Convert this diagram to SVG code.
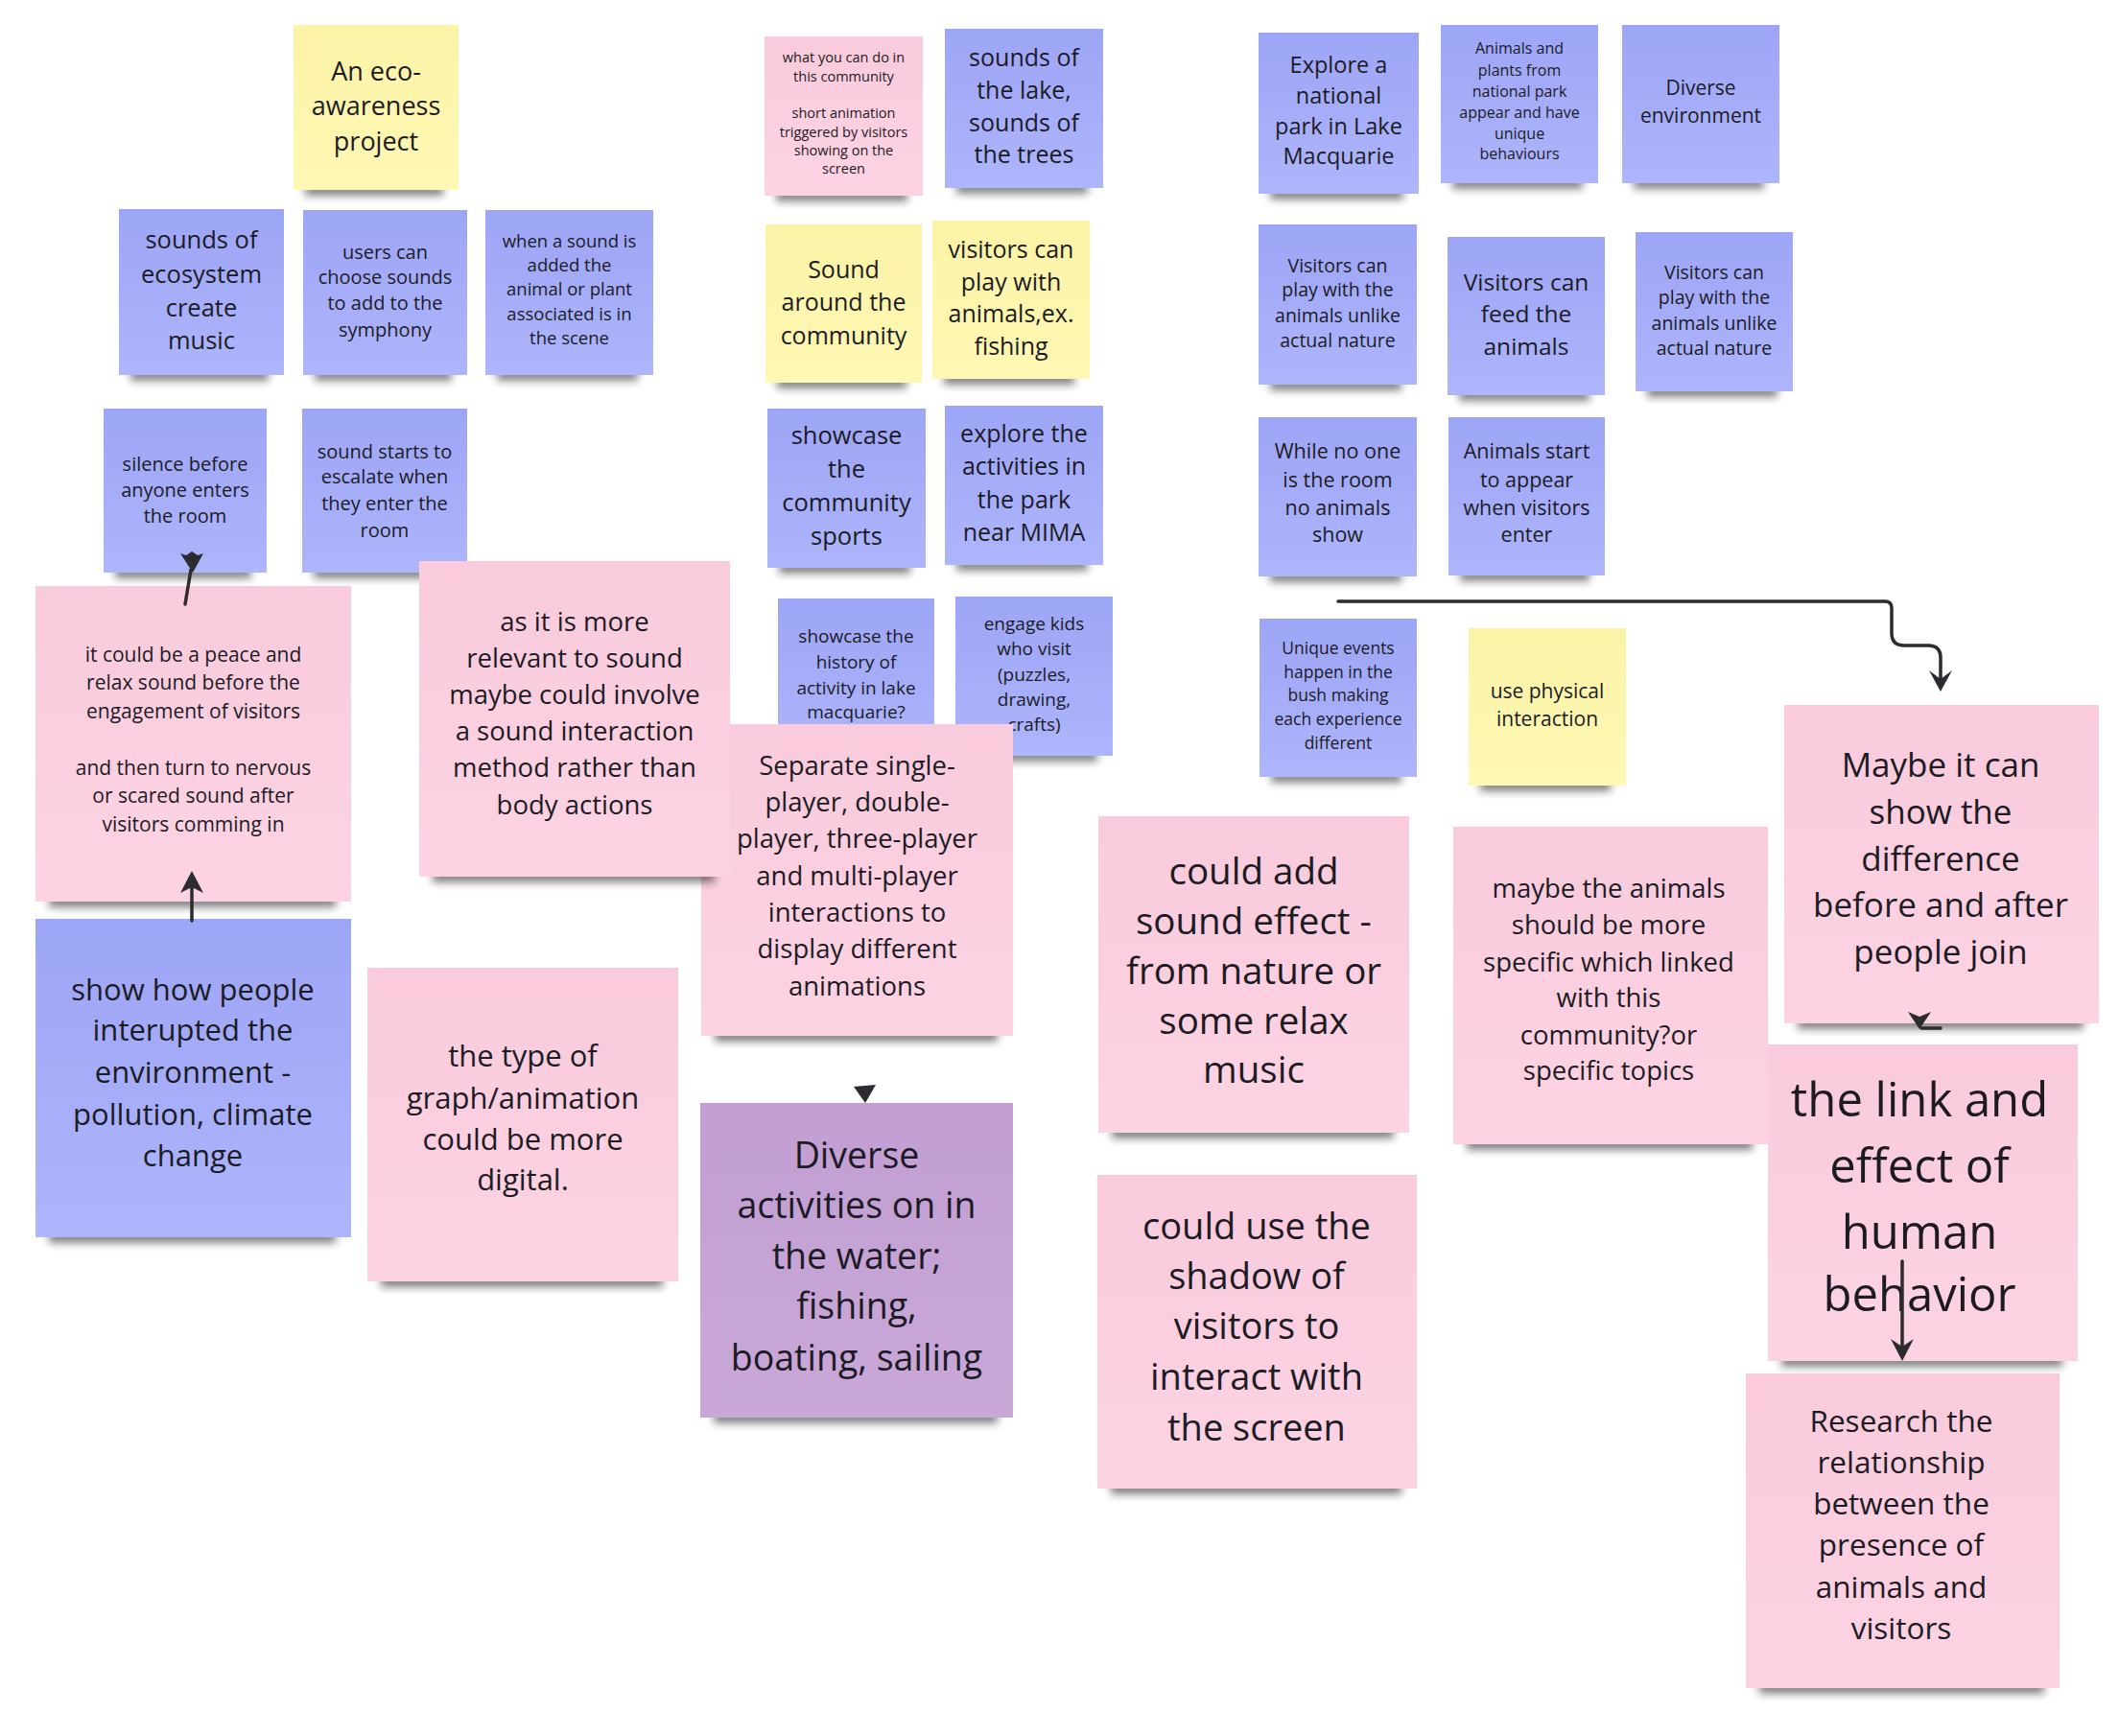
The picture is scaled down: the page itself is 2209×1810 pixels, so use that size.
<svg xmlns="http://www.w3.org/2000/svg" width="2209" height="1810" viewBox="0 0 2209 1810">
<defs>
<linearGradient id="gb" x1="0" y1="0" x2="0" y2="1"><stop offset="0" stop-color="#9da5f6"/><stop offset="1" stop-color="#adb5fc"/></linearGradient>
<linearGradient id="gp" x1="0" y1="0" x2="0" y2="1"><stop offset="0" stop-color="#f9cbdc"/><stop offset="1" stop-color="#fdd3e3"/></linearGradient>
<linearGradient id="gy" x1="0" y1="0" x2="0" y2="1"><stop offset="0" stop-color="#fbf3a6"/><stop offset="1" stop-color="#fef8b4"/></linearGradient>
<linearGradient id="gv" x1="0" y1="0" x2="0" y2="1"><stop offset="0" stop-color="#c29ed2"/><stop offset="1" stop-color="#c9a8d8"/></linearGradient>
<filter id="blur" x="-20%" y="-100%" width="140%" height="300%"><feGaussianBlur stdDeviation="4"/></filter>
</defs>
<style>
.n text{font-family:"Open Sans","Liberation Sans",sans-serif;fill:#1c1b24;text-anchor:middle}
.sh{fill:#1a1a1a;opacity:.55;filter:url(#blur)}
.b{fill:url(#gb)}.p{fill:url(#gp)}.y{fill:url(#gy)}.v{fill:url(#gv)}
.c{fill:none;stroke:#2b2b30;stroke-width:3.5;stroke-linecap:round}
.h{fill:#2b2b30}
</style>
<rect width="2209" height="1810" fill="#ffffff"/>

<g id="n-eco" class="n"><rect class="sh" x="318" y="192" width="144" height="12"/><rect class="y" x="306" y="26" width="172" height="172"/>
<text font-size="27"><tspan x="392" y="84">An eco-</tspan><tspan x="392" y="120">awareness</tspan><tspan x="392" y="157">project</tspan></text></g>

<g id="n-ecosystem" class="n"><rect class="sh" x="136" y="385" width="144" height="12"/><rect class="b" x="124" y="218" width="172" height="173"/>
<text font-size="25.5"><tspan x="210" y="259">sounds of</tspan><tspan x="210" y="295">ecosystem</tspan><tspan x="210" y="330">create</tspan><tspan x="210" y="364">music</tspan></text></g>

<g id="n-users" class="n"><rect class="sh" x="328" y="385" width="143" height="12"/><rect class="b" x="316" y="219" width="171" height="172"/>
<text font-size="20"><tspan x="401.5" y="270">users can</tspan><tspan x="401.5" y="296">choose sounds</tspan><tspan x="401.5" y="323">to add to the</tspan><tspan x="401.5" y="351">symphony</tspan></text></g>

<g id="n-when" class="n"><rect class="sh" x="518" y="385" width="147" height="12"/><rect class="b" x="506" y="219" width="175" height="172"/>
<text font-size="18.5"><tspan x="593.5" y="258">when a sound is</tspan><tspan x="593.5" y="283">added the</tspan><tspan x="593.5" y="308">animal or plant</tspan><tspan x="593.5" y="334">associated is in</tspan><tspan x="593.5" y="359">the scene</tspan></text></g>

<g id="n-silence" class="n"><rect class="sh" x="120" y="591" width="142" height="12"/><rect class="b" x="108" y="426" width="170" height="171"/>
<text font-size="20"><tspan x="193" y="491">silence before</tspan><tspan x="193" y="518">anyone enters</tspan><tspan x="193" y="545">the room</tspan></text></g>

<g id="n-escalate" class="n"><rect class="sh" x="327" y="591" width="144" height="12"/><rect class="b" x="315" y="426" width="172" height="171"/>
<text font-size="20"><tspan x="401" y="478">sound starts to</tspan><tspan x="401" y="504">escalate when</tspan><tspan x="401" y="532">they enter the</tspan><tspan x="401" y="560">room</tspan></text></g>

<g id="n-whatyoucando" class="n"><rect class="sh" x="809" y="198" width="137" height="12"/><rect class="p" x="797" y="38" width="165" height="166"/>
<text font-size="14.5"><tspan x="879.5" y="65">what you can do in</tspan><tspan x="879.5" y="85">this community</tspan><tspan x="879.5" y="123">short animation</tspan><tspan x="879.5" y="143">triggered by visitors</tspan><tspan x="879.5" y="162">showing on the</tspan><tspan x="879.5" y="181">screen</tspan></text></g>

<g id="n-lake" class="n"><rect class="sh" x="997" y="190" width="137" height="12"/><rect class="b" x="985" y="30" width="165" height="166"/>
<text font-size="25"><tspan x="1067.5" y="69">sounds of</tspan><tspan x="1067.5" y="103">the lake,</tspan><tspan x="1067.5" y="137">sounds of</tspan><tspan x="1067.5" y="170">the trees</tspan></text></g>

<g id="n-soundaround" class="n"><rect class="sh" x="810" y="393" width="135" height="12"/><rect class="y" x="798" y="234" width="163" height="165"/>
<text font-size="25"><tspan x="879.5" y="290">Sound</tspan><tspan x="879.5" y="324">around the</tspan><tspan x="879.5" y="359">community</tspan></text></g>

<g id="n-fishing" class="n"><rect class="sh" x="984" y="389" width="136" height="12"/><rect class="y" x="972" y="230" width="164" height="165"/>
<text font-size="25"><tspan x="1054" y="269">visitors can</tspan><tspan x="1054" y="303">play with</tspan><tspan x="1054" y="336">animals,ex.</tspan><tspan x="1054" y="370">fishing</tspan></text></g>

<g id="n-sports" class="n"><rect class="sh" x="812" y="586" width="137" height="12"/><rect class="b" x="800" y="426" width="165" height="166"/>
<text font-size="25.5"><tspan x="882.5" y="463">showcase</tspan><tspan x="882.5" y="498">the</tspan><tspan x="882.5" y="533">community</tspan><tspan x="882.5" y="568">sports</tspan></text></g>

<g id="n-mima" class="n"><rect class="sh" x="997" y="583" width="137" height="12"/><rect class="b" x="985" y="423" width="165" height="166"/>
<text font-size="25"><tspan x="1067.5" y="461">explore the</tspan><tspan x="1067.5" y="495">activities in</tspan><tspan x="1067.5" y="530">the park</tspan><tspan x="1067.5" y="564">near MIMA</tspan></text></g>

<g id="n-national" class="n"><rect class="sh" x="1324" y="196" width="139" height="12"/><rect class="b" x="1312" y="34" width="167" height="168"/>
<text font-size="23.5"><tspan x="1395.5" y="76">Explore a</tspan><tspan x="1395.5" y="108">national</tspan><tspan x="1395.5" y="140">park in Lake</tspan><tspan x="1395.5" y="171">Macquarie</tspan></text></g>

<g id="n-plants" class="n"><rect class="sh" x="1514" y="185" width="136" height="12"/><rect class="b" x="1502" y="26" width="164" height="165"/>
<text font-size="16"><tspan x="1584" y="56">Animals and</tspan><tspan x="1584" y="79">plants from</tspan><tspan x="1584" y="101">national park</tspan><tspan x="1584" y="123">appear and have</tspan><tspan x="1584" y="145">unique</tspan><tspan x="1584" y="166">behaviours</tspan></text></g>

<g id="n-diverseenv" class="n"><rect class="sh" x="1703" y="185" width="136" height="12"/><rect class="b" x="1691" y="26" width="164" height="165"/>
<text font-size="21"><tspan x="1773" y="99">Diverse</tspan><tspan x="1773" y="128">environment</tspan></text></g>

<g id="n-play1" class="n"><rect class="sh" x="1324" y="395" width="137" height="12"/><rect class="b" x="1312" y="234" width="165" height="167"/>
<text font-size="19.5"><tspan x="1394.5" y="283.5">Visitors can</tspan><tspan x="1394.5" y="308.5">play with the</tspan><tspan x="1394.5" y="335.5">animals unlike</tspan><tspan x="1394.5" y="361.5">actual nature</tspan></text></g>

<g id="n-feed" class="n"><rect class="sh" x="1521" y="406" width="136" height="12"/><rect class="b" x="1509" y="247" width="164" height="165"/>
<text font-size="24.5"><tspan x="1591" y="303">Visitors can</tspan><tspan x="1591" y="336">feed the</tspan><tspan x="1591" y="370">animals</tspan></text></g>

<g id="n-play2" class="n"><rect class="sh" x="1717" y="402" width="136" height="12"/><rect class="b" x="1705" y="242" width="164" height="166"/>
<text font-size="19.5"><tspan x="1787" y="290.5">Visitors can</tspan><tspan x="1787" y="316.5">play with the</tspan><tspan x="1787" y="343.5">animals unlike</tspan><tspan x="1787" y="369.5">actual nature</tspan></text></g>

<g id="n-noone" class="n"><rect class="sh" x="1324" y="595" width="137" height="12"/><rect class="b" x="1312" y="435" width="165" height="166"/>
<text font-size="21.5"><tspan x="1394.5" y="478">While no one</tspan><tspan x="1394.5" y="508">is the room</tspan><tspan x="1394.5" y="537">no animals</tspan><tspan x="1394.5" y="565">show</tspan></text></g>

<g id="n-appear" class="n"><rect class="sh" x="1522" y="594" width="135" height="12"/><rect class="b" x="1510" y="435" width="163" height="165"/>
<text font-size="21.5"><tspan x="1591.5" y="478">Animals start</tspan><tspan x="1591.5" y="508">to appear</tspan><tspan x="1591.5" y="537">when visitors</tspan><tspan x="1591.5" y="565">enter</tspan></text></g>

<g id="n-unique" class="n"><rect class="sh" x="1325" y="804" width="136" height="12"/><rect class="b" x="1313" y="645" width="164" height="165"/>
<text font-size="17.5"><tspan x="1395" y="682">Unique events</tspan><tspan x="1395" y="707">happen in the</tspan><tspan x="1395" y="731">bush making</tspan><tspan x="1395" y="756">each experience</tspan><tspan x="1395" y="781">different</tspan></text></g>

<g id="n-physical" class="n"><rect class="sh" x="1543" y="813" width="136" height="12"/><rect class="y" x="1531" y="655" width="164" height="164"/>
<text font-size="21"><tspan x="1613" y="728">use physical</tspan><tspan x="1613" y="757">interaction</tspan></text></g>

<g id="n-history" class="n"><rect class="b" x="811" y="624" width="163" height="166"/>
<text font-size="19"><tspan x="892.5" y="670">showcase the</tspan><tspan x="892.5" y="697">history of</tspan><tspan x="892.5" y="724">activity in lake</tspan><tspan x="892.5" y="749">macquarie?</tspan></text></g>

<g id="n-kids" class="n"><rect class="sh" x="1008" y="782" width="136" height="12"/><rect class="b" x="996" y="622" width="164" height="166"/>
<text font-size="19"><tspan x="1078" y="657">engage kids</tspan><tspan x="1078" y="683">who visit</tspan><tspan x="1078" y="710">(puzzles,</tspan><tspan x="1078" y="736">drawing,</tspan><tspan x="1078" y="762">crafts)</tspan></text></g>

<g id="n-separate" class="n"><rect class="sh" x="745" y="1072" width="295" height="14"/><rect class="p" x="731" y="755" width="325" height="325"/>
<text font-size="27.5"><tspan x="893.5" y="808">Separate single-</tspan><tspan x="893.5" y="846">player, double-</tspan><tspan x="893.5" y="884">player, three-player</tspan><tspan x="893.5" y="923">and multi-player</tspan><tspan x="893.5" y="961">interactions to</tspan><tspan x="893.5" y="999">display different</tspan><tspan x="893.5" y="1038">animations</tspan></text></g>

<g id="n-relevant" class="n"><rect class="sh" x="451" y="906" width="294" height="14"/><rect class="p" x="437" y="585" width="324" height="329"/>
<text font-size="27.5"><tspan x="599" y="658">as it is more</tspan><tspan x="599" y="696">relevant to sound</tspan><tspan x="599" y="734">maybe could involve</tspan><tspan x="599" y="772">a sound interaction</tspan><tspan x="599" y="810">method rather than</tspan><tspan x="599" y="849">body actions</tspan></text></g>

<g id="n-peace" class="n"><rect class="sh" x="51" y="932" width="299" height="14"/><rect class="p" x="37" y="611" width="329" height="329"/>
<text font-size="21"><tspan x="201.5" y="690">it could be a peace and</tspan><tspan x="201.5" y="719">relax sound before the</tspan><tspan x="201.5" y="749">engagement of visitors</tspan><tspan x="201.5" y="808">and then turn to nervous</tspan><tspan x="201.5" y="837">or scared sound after</tspan><tspan x="201.5" y="867">visitors comming in</tspan></text></g>

<g id="n-interupted" class="n"><rect class="sh" x="51" y="1282" width="299" height="14"/><rect class="b" x="37" y="958" width="329" height="332"/>
<text font-size="31"><tspan x="201" y="1043">show how people</tspan><tspan x="201" y="1085">interupted the</tspan><tspan x="201" y="1129">environment -</tspan><tspan x="201" y="1173">pollution, climate</tspan><tspan x="201" y="1216">change</tspan></text></g>

<g id="n-graph" class="n"><rect class="sh" x="397" y="1328" width="294" height="14"/><rect class="p" x="383" y="1009" width="324" height="327"/>
<text font-size="31"><tspan x="545" y="1112">the type of</tspan><tspan x="545" y="1156">graph/animation</tspan><tspan x="545" y="1199">could be more</tspan><tspan x="545" y="1241">digital.</tspan></text></g>

<g id="n-water" class="n"><rect class="sh" x="744" y="1470" width="296" height="14"/><rect class="v" x="730" y="1150" width="326" height="328"/>
<text font-size="37.5"><tspan x="893" y="1218">Diverse</tspan><tspan x="893" y="1270">activities on in</tspan><tspan x="893" y="1323">the water;</tspan><tspan x="893" y="1375">fishing,</tspan><tspan x="893" y="1429">boating, sailing</tspan></text></g>

<g id="n-soundeffect" class="n"><rect class="sh" x="1159" y="1173" width="294" height="14"/><rect class="p" x="1145" y="851" width="324" height="330"/>
<text font-size="38.5"><tspan x="1307" y="922">could add</tspan><tspan x="1307" y="974">sound effect -</tspan><tspan x="1307" y="1026">from nature or</tspan><tspan x="1307" y="1078">some relax</tspan><tspan x="1307" y="1129">music</tspan></text></g>

<g id="n-shadow" class="n"><rect class="sh" x="1158" y="1544" width="303" height="14"/><rect class="p" x="1144" y="1225" width="333" height="327"/>
<text font-size="38"><tspan x="1310" y="1292">could use the</tspan><tspan x="1310" y="1344">shadow of</tspan><tspan x="1310" y="1396">visitors to</tspan><tspan x="1310" y="1449">interact with</tspan><tspan x="1310" y="1502">the screen</tspan></text></g>

<g id="n-specific" class="n"><rect class="sh" x="1529" y="1185" width="298" height="14"/><rect class="p" x="1515" y="862" width="328" height="331"/>
<text font-size="27.5"><tspan x="1677" y="936">maybe the animals</tspan><tspan x="1677" y="974">should be more</tspan><tspan x="1677" y="1013">specific which linked</tspan><tspan x="1677" y="1050">with this</tspan><tspan x="1677" y="1089">community?or</tspan><tspan x="1677" y="1126">specific topics</tspan></text></g>

<g id="n-maybe" class="n"><rect class="sh" x="1874" y="1059" width="298" height="14"/><rect class="p" x="1860" y="735" width="328" height="332"/>
<text font-size="35"><tspan x="2023" y="810">Maybe it can</tspan><tspan x="2023" y="859">show the</tspan><tspan x="2023" y="908">difference</tspan><tspan x="2023" y="956">before and after</tspan><tspan x="2023" y="1005">people join</tspan></text></g>

<g id="n-link" class="n"><rect class="sh" x="1857" y="1411" width="293" height="14"/><rect class="p" x="1843" y="1089" width="323" height="330"/>
<text font-size="49"><tspan x="2001" y="1164">the link and</tspan><tspan x="2001" y="1233">effect of</tspan><tspan x="2001" y="1302">human</tspan><tspan x="2001" y="1367">behavior</tspan></text></g>

<g id="n-research" class="n"><rect class="sh" x="1834" y="1752" width="297" height="14"/><rect class="p" x="1820" y="1432" width="327" height="328"/>
<text font-size="31.5"><tspan x="1982" y="1493">Research the</tspan><tspan x="1982" y="1536">relationship</tspan><tspan x="1982" y="1579">between the</tspan><tspan x="1982" y="1622">presence of</tspan><tspan x="1982" y="1666">animals and</tspan><tspan x="1982" y="1709">visitors</tspan></text></g>

<g id="connectors">
<path class="c" d="M193,630 L199,594"/>
<polygon class="h" points="188,577 194,579 200,575 206,579 212,577 201,597"/>
<path class="c" d="M200,960 L200,918"/>
<polygon class="h" points="200,908 212,931 200,925 188,931"/>
<polygon class="h" points="890,1133 913,1131 902,1150"/>
<path class="c" d="M1395,627 H1965 Q1972,627 1972,634 V660 Q1972,673 1985,673 H2010 Q2023,673 2023,686 V712"/>
<polygon class="h" points="2023,721 2011,699 2023,708 2035,699"/>
<polygon class="h" points="1989,1055 2001,1060 2013,1055 2001,1073"/>
<path class="c" d="M2003,1072 H2023"/>
<path class="c" d="M1983,1315 V1405"/>
<polygon class="h" points="1983,1419 1971,1396 1983,1404 1995,1396"/>
</g>
</svg>
